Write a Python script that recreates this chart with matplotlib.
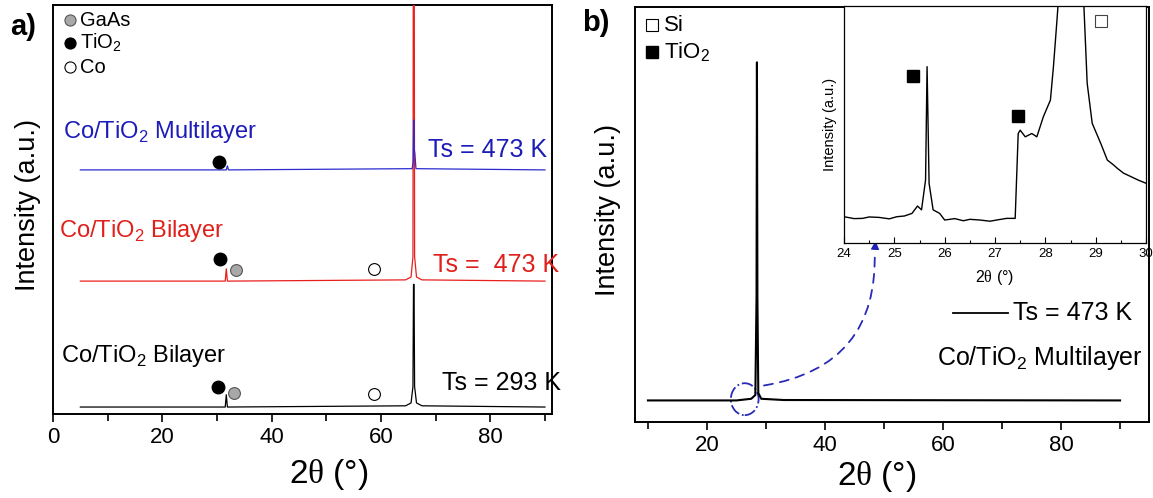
import matplotlib
matplotlib.use("Agg")
import matplotlib.pyplot as plt
from matplotlib.patches import Ellipse, FancyArrowPatch

plt.rcParams['font.family'] = ['Liberation Sans', 'DejaVu Sans']
plt.rcParams['mathtext.fontset'] = 'custom'
plt.rcParams['mathtext.rm'] = 'Liberation Sans'
plt.rcParams['mathtext.sf'] = 'Liberation Serif'
plt.rcParams['axes.linewidth'] = 1.4

# ---- panel a data (2theta, relative intensity) ----
a_x = [5, 31.5, 31.7, 31.9, 64.5, 65.5, 65.85, 65.95, 66.05, 66.15, 66.5, 67.5, 90]
black_y = [0, 0, 3.0, 0, 0.3, 1.0, 5.0, 30.0, 30.0, 5.0, 1.0, 0.3, 0]
red_y = [0, 0, 3.0, 0, 0.3, 1.0, 6.0, 120.0, 120.0, 6.0, 1.0, 0.3, 0]
blue_x = [5, 31.7, 31.9, 32.1, 65.7, 65.9, 66.0, 66.1, 66.2, 66.4, 90]
blue_y = [0, 0, 1.0, 0, 0.3, 2.0, 12.2, 5.0, 4.0, 0.3, 0]
offsets = {'black': 1.7, 'red': 32.5, 'blue': 59.7}

# phase markers in panel a: (x, y)
tio2_a = [(30.2, 6.6), (30.6, 37.9), (30.4, 61.6)]
gaas_a = [(33.1, 5.1), (33.5, 35.2)]
co_a = [(58.8, 4.9), (58.8, 35.5)]

# ---- panel b data ----
b_x = [10, 25, 27.5, 28.2, 28.4, 28.47, 28.55, 28.7, 29.2, 33, 90]
b_y = [5.2, 5.2, 5.6, 6.5, 30, 86.7, 30, 7.0, 5.6, 5.3, 5.2]

inset_x = [24.0, 24.2, 24.37, 24.5, 24.7, 24.9, 25.05, 25.2, 25.35, 25.46, 25.54, 25.62,
           25.65, 25.69, 25.77, 25.9, 26.0, 26.2, 26.37, 26.5, 26.7, 26.9, 27.03,
           27.23, 27.4, 27.46, 27.5, 27.6, 27.73, 27.83, 27.96, 28.1, 28.16, 28.23,
           28.3, 28.5, 28.7, 28.76, 28.83, 28.93, 29.1, 29.23, 29.35, 29.43, 29.55,
           29.7, 29.85, 30.0]
inset_y = [11.1, 10.3, 10.4, 11.0, 10.8, 10.2, 11.1, 11.4, 12.5, 15.6, 14.0, 26.6,
           74.4, 25.2, 14.0, 12.5, 9.7, 10.3, 9.4, 10.0, 9.7, 9.2, 9.7,
           10.4, 10.4, 46.2, 47.6, 44.8, 46.2, 44.8, 53.3, 60.3, 74.4, 94.0,
           115, 130, 115, 102.5, 67.4, 50.5, 42.0, 35.0, 33.0, 31.5, 29.5,
           28.0, 26.5, 25.2]
tio2_inset = [(25.37, 70.5), (27.46, 53.6)]
si_inset = [(29.1, 93.7)]

fig = plt.figure(figsize=(11.53, 4.98), dpi=100)

# ================= panel a =================
ax1 = fig.add_axes([0.046, 0.1687, 0.4328, 0.821])
ax1.plot(a_x, [v + offsets['black'] for v in black_y], color='black', lw=0.9, zorder=2)
ax1.plot(a_x, [v + offsets['red'] for v in red_y], color='#e8201c', lw=0.9, zorder=3)
ax1.plot(blue_x, [v + offsets['blue'] for v in blue_y], color='#2b2bd0', lw=0.9, zorder=4)

for x, y in tio2_a:
    ax1.plot(x, y, 'o', ms=9, mfc='black', mec='black', zorder=5)
for x, y in gaas_a:
    ax1.plot(x, y, 'o', ms=8.5, mfc='#a8a8a8', mec='#555555', mew=0.8, zorder=5)
for x, y in co_a:
    ax1.plot(x, y, 'o', ms=8.5, mfc='white', mec='black', mew=0.8, zorder=5)

ax1.text(1.8, 67.5, 'Co/TiO$_2$ Multilayer', color='#1c1cb8', fontsize=17, va='baseline')
ax1.text(68.6, 62.8, 'Ts = 473 K', color='#1c1cb8', fontsize=18, va='baseline')
ax1.text(1.1, 43.3, 'Co/TiO$_2$ Bilayer', color='#e0201c', fontsize=17, va='baseline')
ax1.text(69.6, 34.7, 'Ts =  473 K', color='#e0201c', fontsize=18, va='baseline')
ax1.text(1.5, 12.7, 'Co/TiO$_2$ Bilayer', color='black', fontsize=17, va='baseline')
ax1.text(71.2, 5.9, 'Ts = 293 K', color='black', fontsize=18, va='baseline')

# legend a
leg_a = [('GaAs', '#a8a8a8', '#555555', 0.963), ('TiO$_2$', 'black', 'black', 0.907),
         ('Co', 'white', 'black', 0.848)]
for lab, fc, ec, yy in leg_a:
    ax1.plot(0.034, yy, 'o', ms=8, mfc=fc, mec=ec, mew=0.8, transform=ax1.transAxes, clip_on=False)
    ax1.text(0.054, yy, lab, fontsize=14.5, va='center', transform=ax1.transAxes)

ax1.set_xlim(0, 91.3)
ax1.set_ylim(0, 100)
ax1.set_yticks([])
ax1.set_xticks([0, 20, 40, 60, 80])
ax1.set_xticks([10, 30, 50, 70, 90], minor=True)
ax1.tick_params(axis='x', which='major', direction='out', length=6, width=1.2, labelsize=16)
ax1.tick_params(axis='x', which='minor', direction='out', length=5, width=1.2)
ax1.set_ylabel('Intensity (a.u.)', fontsize=19.5)
ax1.yaxis.set_label_coords(-0.024, 0.51)
ax1.set_xlabel('2$\\mathsf{\\theta}$ (°)', fontsize=24)
ax1.xaxis.set_label_coords(0.553, -0.105)

# ================= panel b =================
ax2 = fig.add_axes([0.5507, 0.1526, 0.4458, 0.833])
ax2.plot(b_x, b_y, color='black', lw=1.5)
ax2.set_xlim(7.8, 94.9)
ax2.set_ylim(0, 100)
ax2.set_yticks([])
ax2.set_xticks([20, 40, 60, 80])
ax2.set_xticks([10, 30, 50, 70, 90], minor=True)
ax2.tick_params(axis='x', which='major', direction='out', length=6, width=1.2, labelsize=16)
ax2.tick_params(axis='x', which='minor', direction='out', length=5, width=1.2)
ax2.set_ylabel('Intensity (a.u.)', fontsize=19.5)
ax2.yaxis.set_label_coords(-0.027, 0.51)
ax2.set_xlabel('2$\\mathsf{\\theta}$ (°)', fontsize=24)
ax2.xaxis.set_label_coords(0.47, -0.09)

# zoom circle and curved arrow
ax2.add_patch(Ellipse((26.4, 5.5), 4.7, 7.7, fill=False, ec='#2a2ab8', lw=1.3, ls='-.'))
ax2.add_patch(FancyArrowPatch((29.2, 8.7), (48.4, 42.0), arrowstyle='-',
                              connectionstyle='arc3,rad=0.45', color='#2a2ab8',
                              lw=1.3, ls=(0, (5, 4))))
ax2.add_patch(FancyArrowPatch((48.45, 41.0), (48.6, 44.3), arrowstyle='-|>',
                              mutation_scale=12, color='#2020b8', lw=1.0))

# legend b
ax2.plot(0.033, 0.957, 's', ms=8, mfc='white', mec='black', mew=0.8, transform=ax2.transAxes)
ax2.text(0.056, 0.957, 'Si', fontsize=16, va='center', transform=ax2.transAxes)
ax2.plot(0.033, 0.892, 's', ms=8, mfc='black', mec='black', transform=ax2.transAxes)
ax2.text(0.056, 0.892, 'TiO$_2$', fontsize=16, va='center', transform=ax2.transAxes)

ax2.plot([0.619, 0.726], [0.263, 0.263], color='black', lw=1.3, transform=ax2.transAxes)
ax2.text(0.735, 0.263, 'Ts = 473 K', fontsize=18, va='center', transform=ax2.transAxes)
ax2.text(0.988, 0.137, 'Co/TiO$_2$ Multilayer', fontsize=18, ha='right', va='baseline',
         transform=ax2.transAxes)

# ================= inset =================
axi = fig.add_axes([0.732, 0.512, 0.262, 0.476])
axi.plot(inset_x, inset_y, color='black', lw=1.0)
for x, y in tio2_inset:
    axi.plot(x, y, 's', ms=9, mfc='black', mec='black')
for x, y in si_inset:
    axi.plot(x, y, 's', ms=9, mfc='white', mec='#444444', mew=0.8)
axi.set_xlim(24, 30)
axi.set_ylim(0, 100)
axi.set_yticks([])
axi.set_xticks([24, 25, 26, 27, 28, 29, 30])
axi.set_xticks([24.5, 25.5, 26.5, 27.5, 28.5, 29.5], minor=True)
axi.tick_params(axis='x', which='major', direction='in', length=4, width=0.8, labelsize=9.5)
axi.tick_params(axis='x', which='minor', direction='in', length=2.5, width=0.8)
for s in axi.spines.values():
    s.set_linewidth(0.9)
axi.set_xlabel('2$\\mathsf{\\theta}$ (°)', fontsize=11.5, labelpad=6)
axi.set_ylabel('Intensity (a.u.)', fontsize=10.5, labelpad=5)

fig.text(0.009, 0.945, 'a)', fontsize=21, fontweight='bold', va='center')
fig.text(0.505, 0.953, 'b)', fontsize=21, fontweight='bold', va='center')

fig.savefig('out.png', dpi=100)
